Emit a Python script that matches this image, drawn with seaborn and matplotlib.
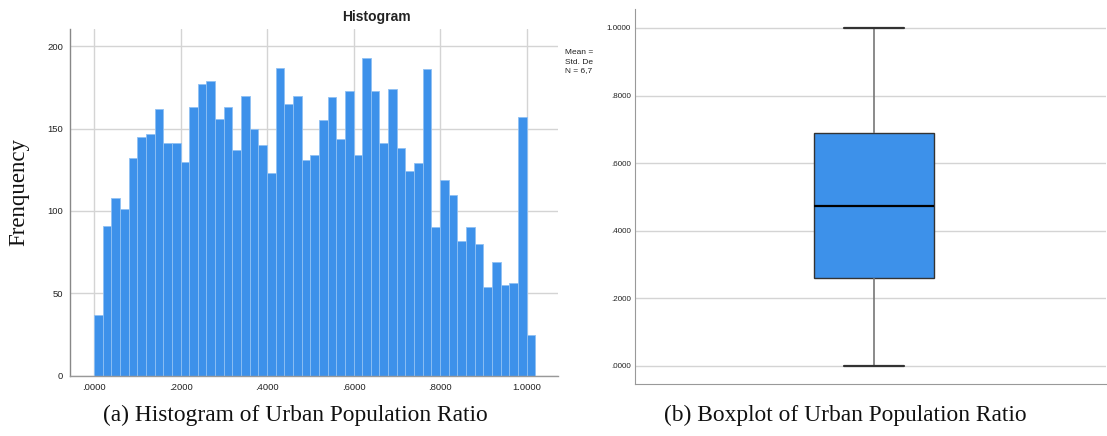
import numpy as np
import pandas as pd
import matplotlib
matplotlib.use("Agg")
import matplotlib.pyplot as plt
from matplotlib.ticker import FuncFormatter
import seaborn as sns

# ---------------- data ----------------
bin_width = 0.02
counts = [37, 91, 108, 101, 132, 145, 147, 162, 141, 141,
          130, 163, 177, 179, 156, 163, 137, 170, 150, 140,
          123, 187, 165, 170, 131, 134, 155, 169, 144, 173,
          134, 193, 173, 141, 174, 138, 124, 129, 186, 90,
          119, 110, 82, 90, 80, 54, 69, 55, 56, 157, 25]
hist_xticks = [0.0, 0.2, 0.4, 0.6, 0.8, 1.0]
hist_yticks = [0, 50, 100, 150, 200]
legend_lines = ["Mean =", "Std. De", "N = 6,7"]
# five-number summary of the boxplot: min, Q1, median, Q3, max
box_values = [0.0, 0.259, 0.472, 0.688, 1.0]
box_yticks = [0.0, 0.2, 0.4, 0.6, 0.8, 1.0]
title_hist = "Histogram"
ylabel = "Frenquency"
caption_a = "(a) Histogram of Urban Population Ratio"
caption_b = "(b) Boxplot of Urban Population Ratio"

n_bins = len(counts)
centers = (np.arange(n_bins) + 0.5) * bin_width
hist_df = pd.DataFrame({"ratio": centers, "count": counts})
box_df = pd.DataFrame({"ratio": box_values})

# ---------------- style ----------------
sns.set_style("white")
plt.rcParams["font.family"] = ["Liberation Sans", "DejaVu Sans"]

BLUE = "#3d91ea"
W, H = 1107, 436
fig = plt.figure(figsize=(W / 100, H / 100), dpi=100)

def fmt(v, pos=None):
    s = f"{v:.4f}"
    if s.startswith("0."):
        s = s[1:]
    return s

# ---------------- histogram ----------------
ax1 = fig.add_axes([70 / W, 1 - 375.7 / H, (558 - 70) / W, (375.7 - 29) / H])
ax1.set_axisbelow(True)
sns.histplot(data=hist_df, x="ratio", weights="count", binwidth=bin_width,
             binrange=(0, n_bins * bin_width), ax=ax1,
             color=BLUE, alpha=1, edgecolor="#8fc0f3", linewidth=0.6)
ax1.set_xlim((70 - 94) / 432.5, (558 - 94) / 432.5)
ax1.set_ylim(0, 210.5)
ax1.set_xticks(hist_xticks)
ax1.set_yticks(hist_yticks)
ax1.xaxis.set_major_formatter(FuncFormatter(fmt))
ax1.grid(True, color="#d4d4d4", linewidth=1.0)
ax1.tick_params(axis="both", length=0, labelsize=6.8, colors="#222222")
ax1.tick_params(axis="y", pad=5)
ax1.tick_params(axis="x", pad=5)
ax1.set_xlabel("")
ax1.set_ylabel("")
for s in ["top", "right"]:
    ax1.spines[s].set_visible(False)
ax1.spines["left"].set_color("#888888")
ax1.spines["bottom"].set_color("#999999")
ax1.spines["left"].set_linewidth(1.0)
ax1.spines["bottom"].set_linewidth(1.0)

fig.text(376 / W, 1 - 17 / H, title_hist, ha="center", va="center",
         fontsize=10, fontweight="bold", color="#222222")
for i, line in enumerate(legend_lines):
    fig.text(565 / W, 1 - (53 + 9 * i) / H, line, ha="left", va="center",
             fontsize=6, color="#222222")

# ---------------- boxplot ----------------
ax2 = fig.add_axes([635 / W, 1 - 384.3 / H, (1106 - 635) / W, (384.3 - 9.3) / H])
ax2.set_axisbelow(True)
sns.boxplot(data=box_df, y="ratio", ax=ax2, width=0.255, color=BLUE,
            saturation=1, linecolor="#333333", linewidth=1.0, whis=1.5,
            medianprops=dict(color="black", linewidth=1.6),
            whiskerprops=dict(color="#777777", linewidth=1.2),
            capprops=dict(color="#333333", linewidth=1.6),
            showfliers=False)
ax2.set_xlim(-0.507, 0.493)
ax2.set_ylim(-0.0549, 1.0552)
ax2.set_yticks(box_yticks)
ax2.yaxis.set_major_formatter(FuncFormatter(fmt))
ax2.set_xticks([])
ax2.grid(True, axis="y", color="#d4d4d4", linewidth=1.0)
ax2.tick_params(axis="both", length=0, labelsize=5.8, colors="#222222", pad=3)
ax2.set_xlabel("")
ax2.set_ylabel("")
for s in ["top", "right"]:
    ax2.spines[s].set_visible(False)
ax2.spines["left"].set_color("#999999")
ax2.spines["bottom"].set_color("#999999")

# ---------------- figure texts ----------------
serif = ["Liberation Serif", "DejaVu Serif"]
fig.text(19 / W, 1 - 192 / H, ylabel, rotation=90, ha="center", va="center",
         fontsize=16.5, family=serif, color="#111111")
fig.text(295 / W, 1 - 415 / H, caption_a, ha="center", va="center",
         fontsize=16.8, family=serif, color="#111111")
fig.text(845 / W, 1 - 415 / H, caption_b, ha="center", va="center",
         fontsize=16.8, family=serif, color="#111111")

fig.savefig("out.png", dpi=100)
